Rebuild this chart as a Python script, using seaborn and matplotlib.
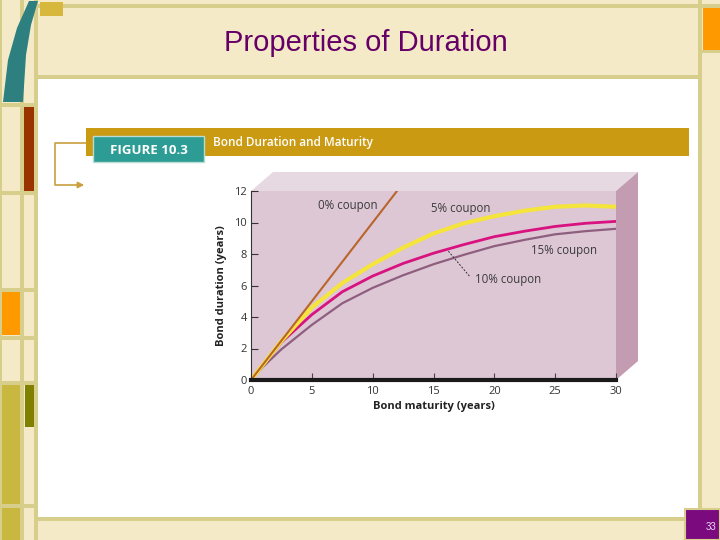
import matplotlib
matplotlib.use("Agg")
import matplotlib.pyplot as plt
import seaborn as sns
import pandas as pd
from matplotlib.patches import Rectangle, Polygon

# ---------------- data ----------------
maturity = [0, 1, 2.5, 5, 7.5, 10, 12.5, 15, 17.5, 20, 22.5, 25, 27.5, 30]
zero_maturity = [0, 12]
zero_coupon = [0, 12]
coupon5 = [0, 0.99, 2.48, 4.6, 6.15, 7.35, 8.4, 9.3, 9.95, 10.4, 10.75, 11.0, 11.08, 11.0]
coupon10 = [0, 0.97, 2.4, 4.15, 5.6, 6.6, 7.4, 8.05, 8.6, 9.1, 9.45, 9.75, 9.95, 10.07]
coupon15 = [0, 0.85, 1.95, 3.5, 4.87, 5.85, 6.65, 7.35, 7.95, 8.5, 8.9, 9.25, 9.45, 9.6]
x_ticks = [0, 5, 10, 15, 20, 25, 30]
y_ticks = [0, 2, 4, 6, 8, 10, 12]
labels = ["0% coupon", "5% coupon", "10% coupon", "15% coupon"]

sns.set_style("white")
plt.rcParams['font.family'] = ['Open Sans', 'DejaVu Sans']

W, H = 720, 540
fig = plt.figure(figsize=(7.2, 5.4), dpi=100)
fig.patch.set_facecolor("#F5EAC8")

# ---------------- slide decoration (pixel coordinates) ----------------
bg = fig.add_axes([0, 0, 1, 1], zorder=0)
bg.set_xlim(0, W)
bg.set_ylim(H, 0)
bg.axis("off")

line_c = "#D8CE8C"
def rect(x, y, w, h, c, **kw):
    bg.add_patch(Rectangle((x, y), w, h, facecolor=c, edgecolor=kw.pop("ec", "none"), **kw))

rect(37, 78, 662, 441, "white")
rect(38, 4, 682, 4, line_c)
rect(37, 75, 663, 4, line_c)
rect(37, 517, 663, 4, line_c)
rect(698, 0, 4, 540, line_c)
rect(0, 0, 2, 540, line_c)
rect(20, 0, 4, 540, line_c)
rect(34, 0, 4, 540, line_c)
for yy in [103, 191, 288, 336, 381, 504]:
    rect(0, yy, 38, 4, line_c)
rect(702, 50, 18, 3, line_c)
rect(40, 2, 23, 14, "#D8B83C")
rect(24, 107, 10, 84, "#993300")
rect(2, 292, 18, 43, "#FF9900")
rect(2, 385, 18, 119, "#C8B840")
rect(2, 508, 18, 32, "#C8B840")
rect(25, 385, 9, 42, "#808000")
rect(703, 8, 17, 42, "#FF9900")
bg.add_patch(Polygon([(29, 1), (38, 1), (31, 25), (26, 55), (23, 102), (3, 102), (8, 60), (17, 28)],
                     closed=True, facecolor="#2E7F80", edgecolor="none"))
rect(685, 509, 35, 31, "#7A0A7E", ec="#D8CE8C", lw=1.5)
bg.text(711, 527, "33", color="#E8D8F0", fontsize=7, ha="center", va="center",
        family=["Liberation Sans Narrow", "Liberation Sans"])

bg.text(366, 43, "Properties of Duration", color="#660066", fontsize=21,
        ha="center", va="center", family=["Liberation Sans", "DejaVu Sans"])

rect(86, 128, 603, 28, "#C99A12")
rect(93, 136, 111, 26, "#2C9C94", ec="#B8DCD4", lw=1)
bg.text(148.5, 150, "FIGURE 10.3", color="white", fontsize=9.5, fontweight="bold",
        ha="center", va="center")
bg.text(213, 142.5, "Bond Duration and Maturity", color="white", fontsize=8.5,
        fontweight="semibold", ha="left", va="center")
bg.plot([86, 55, 55, 80], [143, 143, 185, 185], color="#C9A040", lw=1.2)
bg.annotate("", xy=(87, 185), xytext=(76, 185),
            arrowprops=dict(arrowstyle="-|>", color="#C9A040", lw=1.2, mutation_scale=9))

# ---------------- chart ----------------
L, R, T, B = 251, 616, 191, 380
dx, dy = 22, 19
bg.add_patch(Polygon([(L, T), (L + dx, T - dy), (R + dx, T - dy), (R, T)],
                     closed=True, facecolor="#E7D9E2", edgecolor="none"))
bg.add_patch(Polygon([(R, T), (R + dx, T - dy), (R + dx, B - dy), (R, B)],
                     closed=True, facecolor="#C39CB1", edgecolor="none"))

ax = fig.add_axes([L / W, 1 - B / H, (R - L) / W, (B - T) / H], zorder=2)
ax.set_facecolor("#DDC7D4")

sns.lineplot(x=maturity, y=coupon15, ax=ax, color="#8E5E7E", lw=1.6, legend=False)
sns.lineplot(x=maturity, y=coupon10, ax=ax, color="#D8127F", lw=2.0, legend=False)
sns.lineplot(x=maturity, y=coupon5, ax=ax, color="#F4E43C", lw=3.0, legend=False)
sns.lineplot(x=zero_maturity, y=zero_coupon, ax=ax, color="#B8652C", lw=1.5, legend=False)

ax.set_xlim(0, 30)
ax.set_ylim(0, 12)
ax.set_xticks(x_ticks)
ax.set_yticks(y_ticks)
ax.set_xticklabels([str(v) for v in x_ticks])
ax.set_yticklabels([str(v) for v in y_ticks])
for s in ["top", "right"]:
    ax.spines[s].set_visible(False)
ax.spines["left"].set_color("#333333")
ax.spines["left"].set_linewidth(0.8)
ax.spines["bottom"].set_color("#1A1A1A")
ax.spines["bottom"].set_linewidth(3)
ax.tick_params(axis="x", direction="in", length=5, width=0.8, color="#444444",
               labelsize=8, labelcolor="#333333", pad=4, bottom=True)
ax.tick_params(axis="y", direction="in", length=5, width=0.8, color="#333333",
               labelsize=8, labelcolor="#333333", pad=3, left=True)
ax.set_xlabel("Bond maturity (years)", fontsize=8, fontweight="bold", color="#222222", labelpad=3)
ax.set_ylabel("Bond duration (years)", fontsize=8, fontweight="bold", color="#222222", labelpad=5)

tc = "#3A3A3A"
ax.text(7.97, 11.05, labels[0], fontsize=8.3, color=tc, ha="center", va="center")
ax.text(17.2, 10.9, labels[1], fontsize=8.3, color=tc, ha="center", va="center")
ax.text(21.1, 6.4, labels[2], fontsize=8.3, color=tc, ha="center", va="center")
ax.text(25.7, 8.25, labels[3], fontsize=8.3, color=tc, ha="center", va="center")
ax.plot([17.95, 16.2], [6.6, 8.2], color="#333333", lw=0.7, ls=(0, (2, 1.5)))

fig.savefig("out.png", dpi=100, facecolor=fig.get_facecolor())
